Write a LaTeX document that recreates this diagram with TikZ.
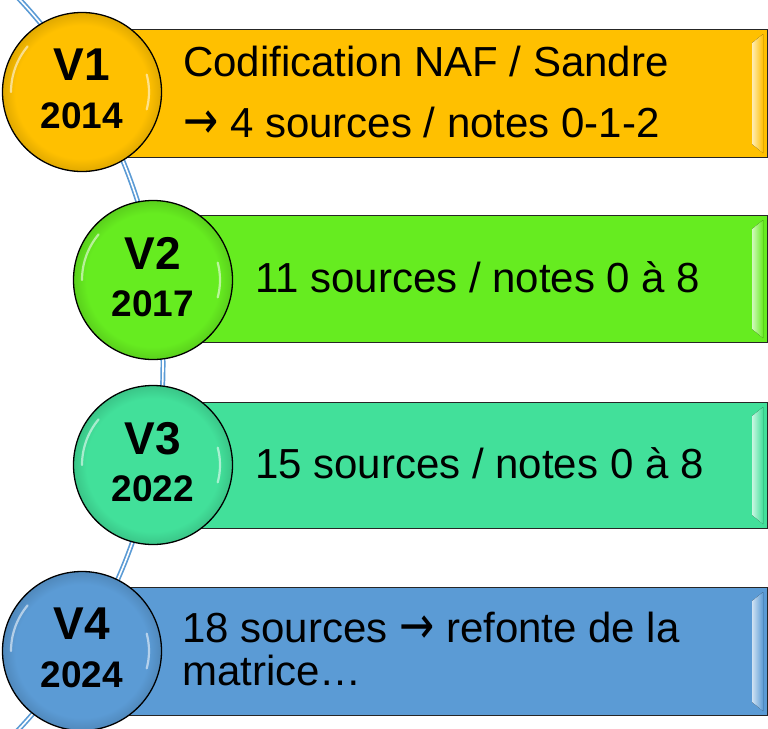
\documentclass[tikz,border=0pt]{standalone}
\usepackage{fontspec}
\setmainfont{Liberation Sans}
\newfontfamily\arrowfont{DejaVu Sans}
\newcommand{\rarr}{{\arrowfont\raisebox{-1pt}{\scalebox{1}[1.25]{→}}}}
\definecolor{gold}{HTML}{FFC000}
\definecolor{lgreen}{HTML}{66EC20}
\definecolor{mint}{HTML}{42E09A}
\definecolor{sky}{HTML}{5B9BD5}
\definecolor{arcblue}{HTML}{5B9BD5}
\colorlet{cbase}{gold}
\pgfdeclareradialshading[cbase]{glossy}{\pgfpointorigin}{color(0bp)=(cbase); color(21bp)=(cbase); color(25bp)=(cbase!88!black); color(50bp)=(cbase!88!black)}
\tikzset{
  base/.code={\colorlet{cbase}{#1}},
  box/.style={draw=black!85, line width=1.1pt, fill=#1, rectangle, inner sep=0pt, anchor=north west},
  vcirc/.style={circle, draw=black, line width=1.3pt, minimum size=159pt, inner sep=0pt, base=#1, shading=glossy},
  vtxt/.style={font=\bfseries\fontsize{46}{50}\selectfont, anchor=base, inner sep=0pt},
  ytxt/.style={font=\bfseries\fontsize{37}{40}\selectfont, anchor=base, inner sep=0pt},
  btxt/.style={font=\fontsize{42}{48}\selectfont, anchor=base west, inner sep=0pt},
  arcline/.style={draw=arcblue, line width=1.7pt, double=white, double distance=1.6pt},
  hl/.style={draw=white, opacity=0.55, line width=2.2pt, line cap=round},
  bevel/.style={left color=#1!30!white, right color=#1, draw=none},
}
\begin{document}
\begin{tikzpicture}[x=1pt, y=-1pt]
\useasboundingbox (0,0) rectangle (768,728);
\clip (0,0) rectangle (768,728);
% timeline arc
\draw[arcline] (-372,364) ++(-46:535) arc[start angle=-46, end angle=46, radius=535];
% boxes
\node[box=gold, minimum width=685pt, minimum height=128pt] (b1) at (82,29) {};
\node[box=lgreen, minimum width=614pt, minimum height=127pt] (b2) at (153,215) {};
\node[box=mint, minimum width=614pt, minimum height=126pt] (b3) at (153,402) {};
\node[box=sky, minimum width=685pt, minimum height=128pt] (b4) at (82,587) {};
% right bevels
\foreach \b/\c in {b1/gold, b2/lgreen, b3/mint, b4/sky}{
  \fill[bevel=\c] ([shift={(-16,14)}]\b.north east) -- ([shift={(-5,5)}]\b.north east)
     -- ([shift={(-5,-5)}]\b.south east) -- ([shift={(-16,-14)}]\b.south east) -- cycle;
}
% circles
\node[vcirc=gold] (c1) at (82,92) {};
\node[vcirc=lgreen] (c2) at (153,280) {};
\node[vcirc=mint] (c3) at (153,465) {};
\node[vcirc=sky] (c4) at (82,651) {};
% highlights
\foreach \c in {c1,c2,c3,c4}{
  \draw[hl] (\c.center) ++(-140:71) arc[start angle=-140, end angle=-180, radius=71];
  \draw[hl] (\c.center) ++(15:67) arc[start angle=15, end angle=-15, radius=67];
}
% circle labels
\node[vtxt] (v1) at ([yshift=12pt]c1.center) {V1};
\node[ytxt] (y1) at ([yshift=-36pt]c1.center) {2014};
\node[vtxt] (v2) at ([yshift=11pt]c2.center) {V2};
\node[ytxt] (y2) at ([yshift=-36pt]c2.center) {2017};
\node[vtxt] (v3) at ([yshift=11pt]c3.center) {V3};
\node[ytxt] (y3) at ([yshift=-36pt]c3.center) {2022};
\node[vtxt] (v4) at ([yshift=12pt]c4.center) {V4};
\node[ytxt] (y4) at ([yshift=-36pt]c4.center) {2024};
% box texts
\node[btxt] (t1a) at (183,76) {Codification NAF / Sandre};
\node[btxt] (t1b) at (183,137) {\rarr{} 4 sources / notes 0-1-2};
\node[btxt] (t2) at (255,292) {11 sources / notes 0 à 8};
\node[btxt] (t3) at (255,478) {15 sources / notes 0 à 8};
\node[btxt] (t4a) at (182,642) {18 sources \rarr{} refonte de la};
\node[btxt] (t4b) at (182,685) {matrice…};
\end{tikzpicture}
\end{document}
